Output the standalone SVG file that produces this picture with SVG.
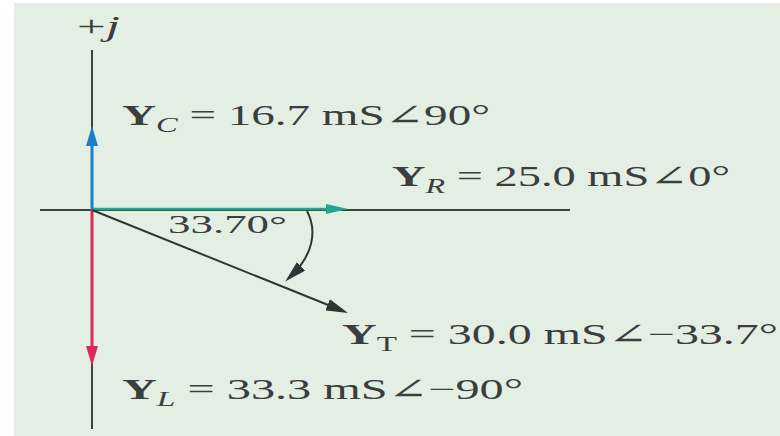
<svg xmlns="http://www.w3.org/2000/svg" width="780" height="436" viewBox="0 0 780 436">
  <style>
    .lbl { font-family: "Liberation Serif", "DejaVu Serif", serif; font-size: 29px; fill: #3a3e3c; }
    .ang { font-family: "Liberation Serif", "DejaVu Serif", serif; font-size: 25px; fill: #3a3e3c; }
    .bold { font-weight: bold; }
    .sub { font-size: 20px; font-style: italic; }
    .subr { font-size: 20px; }
    .axis { stroke: #3b4240; stroke-width: 2; fill: none; }
  </style>
  <defs>
    <marker id="ah-blue" viewBox="0 0 20 12" markerWidth="20" markerHeight="12" refX="12" refY="6" orient="auto" markerUnits="userSpaceOnUse">
      <path d="M0,0 L20,6 L0,12 z" fill="#1f7fc4"/>
    </marker>
    <marker id="ah-teal" viewBox="0 0 22 10" markerWidth="22" markerHeight="10" refX="14" refY="5" orient="auto" markerUnits="userSpaceOnUse">
      <path d="M0,0 L22,5 L0,10 z" fill="#22a593"/>
    </marker>
    <marker id="ah-red" viewBox="0 0 20 12" markerWidth="20" markerHeight="12" refX="12" refY="6" orient="auto" markerUnits="userSpaceOnUse">
      <path d="M0,0 L20,6 L0,12 z" fill="#d92a5a"/>
    </marker>
    <marker id="ah-dark" viewBox="0 0 22 12" markerWidth="22" markerHeight="12" refX="14" refY="6" orient="auto" markerUnits="userSpaceOnUse">
      <path d="M0,0 L22,6 L0,12 z" fill="#2f3533"/>
    </marker>
  </defs>

  <rect x="0" y="0" width="780" height="436" fill="#ffffff"/>
  <rect x="14" y="3" width="766" height="433" fill="#e4efe4"/>

  <g id="axes">
    <line class="axis" x1="92" y1="50" x2="92" y2="429"/>
    <line class="axis" x1="40" y1="210" x2="570" y2="210"/>
  </g>

  <g id="connectors">
    <line id="vec-YC" x1="92" y1="210" x2="92" y2="134" stroke="#1f7fc4" stroke-width="3" marker-end="url(#ah-blue)"/>
    <line id="vec-YL" x1="92" y1="210" x2="92" y2="358" stroke="#d92a5a" stroke-width="3" marker-end="url(#ah-red)"/>
    <line id="vec-YR" x1="92" y1="209" x2="340" y2="209" stroke="#22a593" stroke-width="2.5" marker-end="url(#ah-teal)"/>
    <line id="vec-YT" x1="92" y1="210" x2="340.6" y2="310" stroke="#2f3533" stroke-width="2" marker-end="url(#ah-dark)"/>
    <path id="angle-arc" d="M307,211 C318,232 312,256 291,276" fill="none" stroke="#2f3533" stroke-width="2" marker-end="url(#ah-dark)"/>
  </g>

  <g id="label-j">
    <text class="lbl" x="77" y="36" textLength="43" lengthAdjust="spacingAndGlyphs">+<tspan font-style="italic">j</tspan></text>
  </g>
  <g id="label-YC">
    <text class="lbl" x="122" y="125" textLength="368" lengthAdjust="spacingAndGlyphs"><tspan class="bold">Y</tspan><tspan class="sub" dy="7">C</tspan><tspan dy="-7"> = 16.7 mS∠90°</tspan></text>
  </g>
  <g id="label-YR">
    <text class="lbl" x="392" y="186" textLength="338" lengthAdjust="spacingAndGlyphs"><tspan class="bold">Y</tspan><tspan class="sub" dy="7">R</tspan><tspan dy="-7"> = 25.0 mS∠0°</tspan></text>
  </g>
  <g id="label-angle">
    <text class="ang" x="168" y="233" textLength="119" lengthAdjust="spacingAndGlyphs">33.70°</text>
  </g>
  <g id="label-YT">
    <text class="lbl" x="342" y="344" textLength="436" lengthAdjust="spacingAndGlyphs"><tspan class="bold">Y</tspan><tspan class="subr" dy="7">T</tspan><tspan dy="-7"> = 30.0 mS∠−33.7°</tspan></text>
  </g>
  <g id="label-YL">
    <text class="lbl" x="122" y="399" textLength="401" lengthAdjust="spacingAndGlyphs"><tspan class="bold">Y</tspan><tspan class="sub" dy="7">L</tspan><tspan dy="-7"> = 33.3 mS∠−90°</tspan></text>
  </g>
</svg>
